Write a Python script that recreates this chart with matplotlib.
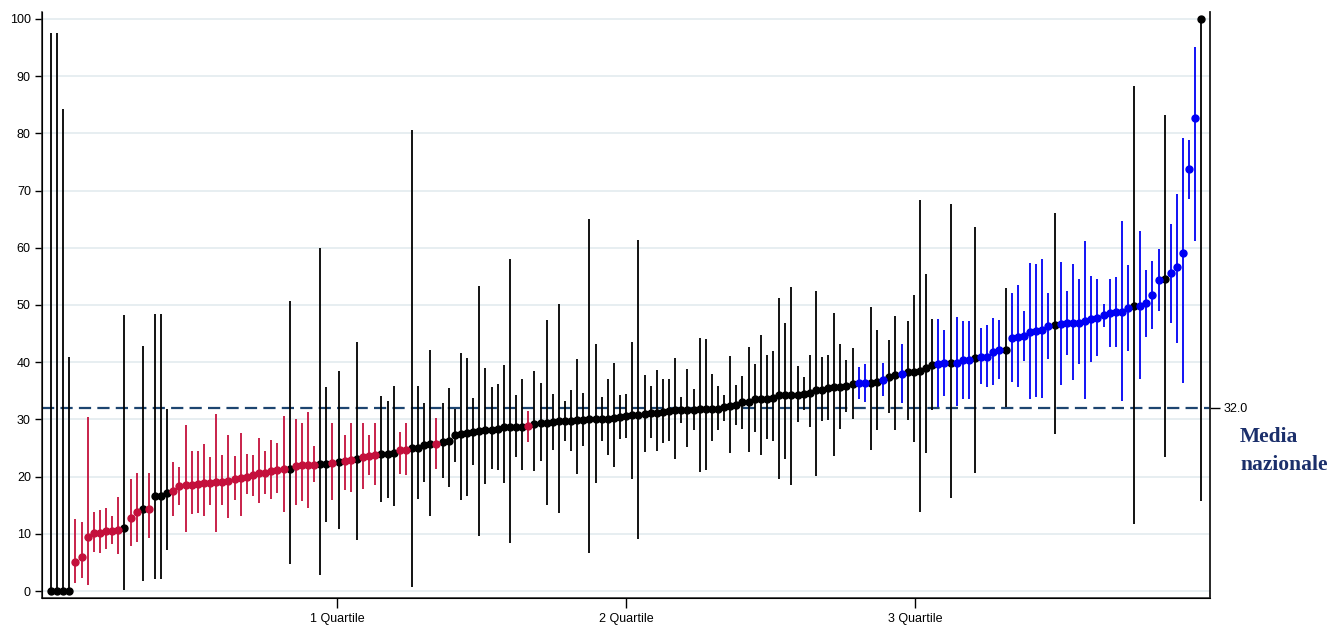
import matplotlib

matplotlib.use("Agg")
import matplotlib.pyplot as plt
import numpy as np

# stima puntuale e intervallo, ordinati per valore
values = [
    0, 0, 0, 0, 5.1, 5.9, 9.5, 10.1, 10.1, 10.5,
    10.5, 10.7, 11.1, 12.8, 13.8, 14.3, 14.4, 16.6, 16.6, 17.1,
    17.4, 18.3, 18.5, 18.5, 18.7, 18.9, 18.9, 19.0, 19.1, 19.3,
    19.5, 19.7, 19.9, 20.2, 20.6, 20.6, 20.9, 21.2, 21.3, 21.3,
    21.9, 22.1, 22.1, 22.1, 22.2, 22.2, 22.4, 22.5, 22.7, 22.9,
    23.0, 23.4, 23.6, 23.7, 23.9, 24.0, 24.2, 24.6, 24.7, 25.0,
    25.0, 25.5, 25.7, 25.7, 26.1, 26.2, 27.2, 27.5, 27.7, 27.8,
    27.9, 28.1, 28.2, 28.4, 28.6, 28.7, 28.7, 28.7, 28.8, 29.2,
    29.3, 29.4, 29.6, 29.7, 29.7, 29.7, 29.9, 29.9, 30.0, 30.0,
    30.0, 30.1, 30.3, 30.4, 30.6, 30.7, 30.8, 30.9, 31.2, 31.2,
    31.3, 31.5, 31.6, 31.7, 31.7, 31.7, 31.8, 31.9, 31.9, 31.9,
    32.1, 32.4, 32.6, 33.1, 33.1, 33.5, 33.6, 33.6, 33.8, 34.2,
    34.3, 34.3, 34.3, 34.5, 34.7, 35.1, 35.2, 35.4, 35.6, 35.7,
    35.8, 36.2, 36.3, 36.3, 36.4, 36.6, 36.9, 37.4, 37.7, 38.0,
    38.2, 38.3, 38.4, 39.0, 39.5, 39.7, 39.8, 39.9, 39.9, 40.3,
    40.3, 40.8, 40.9, 40.9, 41.8, 42.1, 42.2, 44.3, 44.4, 44.5,
    45.2, 45.5, 45.7, 46.3, 46.5, 46.6, 46.8, 46.9, 46.9, 47.2,
    47.6, 47.8, 48.3, 48.6, 48.8, 48.8, 49.5, 49.9, 49.9, 50.3,
    51.8, 54.4, 54.5, 55.6, 56.7, 59.1, 73.8, 82.7, 100.0,
]
lower = [
    0, 0, 0, 0, 1.4, 2.2, 1.1, 6.9, 6.7, 7.4,
    8.3, 6.5, 0.2, 7.8, 8.5, 1.7, 9.3, 2.1, 2.1, 7.1,
    13.2, 15.0, 10.3, 13.5, 13.6, 13.2, 15.0, 10.3, 15.0, 12.8,
    15.9, 13.1, 16.9, 16.6, 15.3, 17.0, 16.0, 17.1, 13.8, 4.7,
    15.0, 15.7, 14.5, 19.0, 2.8, 12.1, 15.9, 10.8, 17.6, 17.3,
    9.0, 17.9, 20.2, 18.6, 15.5, 16.3, 14.8, 20.5, 20.3, 0.7,
    16.0, 19.0, 13.1, 21.3, 19.8, 18.1, 22.6, 15.9, 16.6, 22.0,
    9.7, 18.7, 21.4, 21.1, 18.9, 8.4, 23.4, 21.2, 26.1, 21.0,
    22.7, 15.0, 24.6, 13.7, 26.2, 24.4, 20.5, 25.4, 6.6, 18.8,
    26.2, 23.8, 21.7, 26.6, 26.8, 19.6, 9.1, 24.3, 26.8, 24.5,
    25.9, 26.2, 23.1, 29.4, 25.2, 28.2, 20.8, 21.1, 26.2, 28.1,
    29.7, 24.2, 29.0, 28.4, 24.3, 27.8, 23.8, 26.5, 26.2, 19.6,
    23.1, 18.6, 29.6, 31.6, 28.6, 20.1, 29.7, 29.9, 23.6, 28.4,
    31.3, 30.1, 33.5, 33.1, 24.7, 28.1, 34.1, 31.1, 28.1, 32.9,
    29.9, 26.1, 13.8, 24.2, 31.7, 32.2, 34.1, 16.3, 32.4, 33.5,
    33.5, 20.7, 36.1, 35.6, 36.0, 37.1, 32.2, 36.6, 35.7, 40.2,
    33.5, 33.9, 33.8, 40.6, 27.4, 36.0, 41.3, 36.8, 39.7, 33.6,
    40.1, 41.1, 46.1, 42.6, 42.6, 33.2, 41.9, 11.7, 37.0, 44.4,
    45.8, 49.0, 23.4, 46.8, 43.3, 36.4, 68.5, 61.2, 15.8,
]
upper = [
    97.6, 97.6, 84.3, 40.9, 12.6, 12.1, 30.4, 13.9, 14.2, 14.6,
    13.1, 16.4, 48.3, 19.5, 20.6, 42.8, 20.7, 48.4, 48.4, 31.9,
    22.5, 21.7, 29.0, 24.5, 24.5, 25.7, 23.4, 30.9, 23.7, 27.2,
    23.6, 27.7, 24.0, 23.8, 26.8, 24.4, 26.4, 25.8, 30.6, 50.7,
    30.0, 29.4, 31.3, 25.4, 59.9, 35.6, 29.3, 38.4, 27.2, 29.3,
    43.6, 29.4, 27.2, 29.4, 34.1, 33.2, 35.9, 27.8, 29.4, 80.5,
    35.9, 32.8, 42.1, 30.3, 32.9, 35.4, 31.9, 41.6, 40.8, 33.8,
    53.4, 39.0, 35.6, 36.1, 39.5, 58.0, 34.3, 37.0, 31.4, 38.4,
    36.4, 47.3, 34.5, 50.1, 33.2, 35.2, 40.6, 34.6, 65.1, 43.1,
    33.9, 37.0, 39.8, 34.2, 34.5, 43.6, 61.3, 37.7, 35.8, 38.6,
    37.0, 37.0, 40.8, 33.9, 38.8, 35.3, 44.3, 44.1, 37.9, 35.9,
    34.2, 41.0, 36.0, 37.6, 42.6, 39.6, 44.7, 41.3, 41.9, 51.3,
    46.9, 53.1, 39.3, 37.4, 41.2, 52.5, 40.9, 41.2, 48.6, 43.1,
    40.3, 42.4, 39.2, 39.7, 49.6, 45.7, 39.8, 43.8, 48.0, 43.1,
    47.2, 51.7, 68.3, 55.4, 47.5, 47.6, 45.6, 67.6, 47.9, 47.2,
    47.2, 63.6, 45.9, 46.5, 47.8, 47.3, 53.0, 52.1, 53.5, 49.0,
    57.3, 57.1, 58.0, 52.1, 66.1, 57.5, 52.5, 57.2, 54.5, 61.2,
    55.0, 54.5, 50.1, 54.5, 54.8, 64.6, 57.0, 88.2, 62.9, 56.1,
    57.7, 59.7, 83.2, 64.1, 69.4, 79.2, 78.8, 95.1, 100.0,
]
# n = non diverso dalla media, s = sotto, a = sopra
groups = "".join([
    "nnnnssssss", "ssnssnsnnn", "ssssssssss", "sssssssssn",
    "ssssnnsnss", "nsssnnnssn", "nnnsnnnnnn", "nnnnnnnnsn",
    "nnnnnnnnnn", "nnnnnnnnnn", "nnnnnnnnnn", "nnnnnnnnnn",
    "nnnnnnnnnn", "nnaannanna", "nnnnnaanaa", "anaaaanaaa",
    "aaaanaaaaa", "aaaaaaanaa", "aanaaaaan",
])
quartile_labels = ["1 Quartile", "2 Quartile", "3 Quartile"]
media_nazionale = 32.0

colors = {"n": "#000000", "s": "#c4103c", "a": "#0000f5"}

values = np.array(values)
lower = np.array(lower)
upper = np.array(upper)
groups = np.array(list(groups))
n = len(values)
pos = np.arange(1, n + 1)

fig = plt.figure(figsize=(13.41, 6.26), dpi=100)
ax = fig.add_axes([0.0313, 0.0447, 0.8710, 0.9361])

for g, c in colors.items():
    m = groups == g
    ax.errorbar(
        pos[m], values[m],
        yerr=[values[m] - lower[m], upper[m] - values[m]],
        fmt="o", color=c, ms=5, elinewidth=1.3, capsize=0, zorder=3,
    )

ax.axhline(media_nazionale, color="#1d4570", lw=1.6, dashes=(5.5, 2.8), zorder=2)

ax.set_xlim(-0.47, n + 1.4)
ax.set_ylim(-1.22, 101.2)
ax.set_yticks(np.arange(0, 101, 10))
ax.set_xticks(np.arange(1, 4) * n / 4 + 0.5)
ax.set_xticklabels(quartile_labels)
ax.yaxis.grid(True, color="#e7eef1", lw=1.4)
ax.set_axisbelow(True)
ax.tick_params(axis="y", length=5, width=1, labelsize=9, pad=3)
ax.tick_params(axis="x", length=7, width=1, labelsize=9, pad=4)
for lab in ax.get_xticklabels() + ax.get_yticklabels():
    lab.set_fontfamily("Liberation Sans")
ax.spines["top"].set_visible(False)
for s in ("left", "bottom", "right"):
    ax.spines[s].set_color("#222222")
    ax.spines[s].set_linewidth(1.1)

ax2 = ax.twinx()
ax2.set_ylim(ax.get_ylim())
ax2.set_yticks([media_nazionale])
ax2.set_yticklabels([f"{media_nazionale:.1f}"], fontfamily="Liberation Sans")
ax2.tick_params(axis="y", length=7, width=1, labelsize=9, pad=3)
ax2.spines["top"].set_visible(False)
ax2.spines["right"].set_color("#222222")
ax2.spines["right"].set_linewidth(1.1)

fig.text(0.9247, 0.302, "Media", color="#1b2f6b", fontsize=15.5,
         fontweight="bold", fontfamily="Liberation Serif", va="center")
fig.text(0.9247, 0.257, "nazionale", color="#1b2f6b", fontsize=15.5,
         fontweight="bold", fontfamily="Liberation Serif", va="center")

fig.savefig("out.png", dpi=100)
